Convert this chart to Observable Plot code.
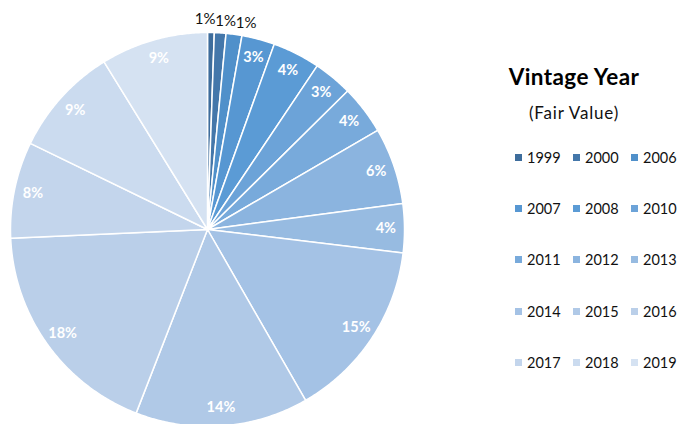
<!DOCTYPE html>
<html><head><meta charset="utf-8">
<script src="https://cdn.jsdelivr.net/npm/d3@7"></script>
<script src="https://cdn.jsdelivr.net/npm/@observablehq/plot@0.6"></script>
<style>
html,body{margin:0;padding:0;background:#fff;width:678px;height:424px;overflow:hidden;font-family:Lato,"Open Sans",sans-serif;}
#chart{position:absolute;left:0;top:0;}
#title{position:absolute;left:474px;width:200px;top:66px;text-align:center;font-size:22.5px;line-height:22px;letter-spacing:0.4px;font-weight:bold;color:#000;}
#sub{position:absolute;left:474px;width:200px;top:104px;text-align:center;font-size:17px;line-height:17px;letter-spacing:0.8px;color:#111;}
#legend{position:absolute;left:515px;top:132px;}
.lg-swatches-wrap{display:grid !important;grid-template-columns:58px 58px 58px;grid-auto-rows:51.2px;margin:0 !important;min-height:0 !important;font-family:Lato,"Open Sans",sans-serif !important;font-size:14.5px !important;color:#111;}
.lg-swatches-wrap .lg-swatch{margin:0 !important;display:inline-flex;align-items:center;}
.lg-swatch > svg{margin-right:5px !important;}
</style></head><body>
<div id="chart"></div>
<div id="title">Vintage Year</div>
<div id="sub">(Fair Value)</div>
<div id="legend"></div>
<script>
const years = ["1999","2000","2006","2007","2008","2010","2011","2012","2013","2014","2015","2016","2017","2018","2019"];
const values = [0.55,0.95,1.3,2.7,3.9,3.2,4.0,6.3,4.0,14.8,14.2,18.4,7.9,9.0,8.8];
const colors = ["#3e6d9c","#4477aa","#5090ca","#5797d2","#5b9bd5","#6ca3d8","#78aadb","#8bb4df","#97bbe1","#a4c2e5","#b0c9e7","#bacfe9","#c3d5ec","#cbdbef","#d5e2f2"];

const total = d3.sum(values);
const arcs = d3.pie().sort(null).value(d => d)(values);

// slice outlines (unit coordinates, y up)
const pts = [];
arcs.forEach((a, i) => {
  pts.push({year: years[i], x: 0, y: 0});
  const n = Math.max(2, Math.ceil((a.endAngle - a.startAngle) / (Math.PI / 360)));
  for (let k = 0; k <= n; k++) {
    const t = a.startAngle + (a.endAngle - a.startAngle) * k / n;
    pts.push({year: years[i], x: Math.sin(t), y: Math.cos(t)});
  }
});

// labels
const R = 197;
const inside = [], outside = [];
arcs.forEach((a, i) => {
  const m = (a.startAngle + a.endAngle) / 2;
  const share = values[i] / total;
  const text = Math.round(share * 100) + "%";
  if (share >= 0.02) {
    const r = 0.905;
    inside.push({text, x: Math.sin(m) * r, y: Math.cos(m) * r});
  } else {
    outside.push({text, m});
  }
});
// spread outside labels so they don't overlap
let prev = -Infinity;
outside.forEach((o, j) => {
  const r = 1.07;
  let x = Math.sin(o.m) * r;
  if (j === 0) x -= 6 / R;
  x = Math.max(x, prev + 20.5 / R);
  prev = x;
  o.x = x;
  o.y = r - j * 2 / R;
});

const chart = Plot.plot({
  width: 420, height: 424, margin: 0,
  x: {domain: [-1, 1], range: [10, 404], axis: null},
  y: {domain: [-1, 1], range: [426, 32], axis: null},
  color: {domain: years, range: colors},
  style: {fontFamily: "Lato, 'Open Sans', sans-serif", overflow: "visible", background: "white"},
  marks: [
    Plot.line(pts, {x: "x", y: "y", z: "year", fill: "year", stroke: "white", strokeWidth: 1.5, strokeLinejoin: "round", curve: "linear-closed"}),
    Plot.text(inside, {x: "x", y: "y", text: "text", fill: "white", fontWeight: "bold", fontSize: 14.5}),
    Plot.text(outside, {x: "x", y: "y", text: "text", fill: "#111", fontSize: 15})
  ]
});
document.getElementById("chart").appendChild(chart);

const legend = Plot.legend({color: {type: "ordinal", domain: years, range: colors}, className: "lg", swatchSize: 7});
document.getElementById("legend").appendChild(legend);
</script>
</body></html>
